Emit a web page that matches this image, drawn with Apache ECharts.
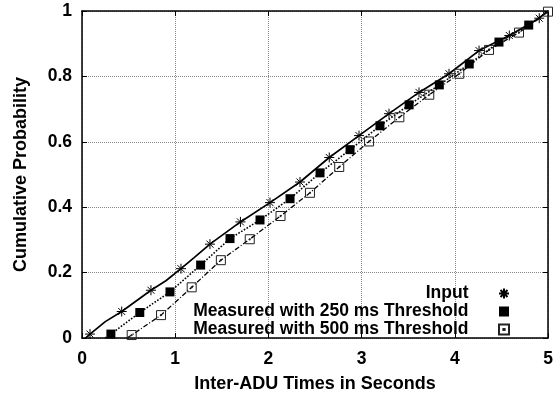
<!DOCTYPE html>
<html>
<head>
<meta charset="utf-8">
<script src="https://cdn.jsdelivr.net/npm/echarts@6/dist/echarts.min.js"></script>
<style>html,body{margin:0;padding:0;background:#fff}#c{width:558px;height:398px}</style>
</head>
<body>
<div id="c"></div>
<script>
// ---- data ----
var xTicks = [0, 1, 2, 3, 4, 5];
var yTicks = [0, 0.2, 0.4, 0.6, 0.8, 1];
var seriesNames = ['Input', 'Measured with 250 ms Threshold', 'Measured with 500 ms Threshold'];

// Input: curve and star markers
var inputLine = [[0.04,0],[0.086,0.012],[0.25,0.05],[0.426,0.081],[0.74,0.146],[0.9,0.175],[1.062,0.212],[1.2,0.245],[1.373,0.287],[1.70,0.355],[2.017,0.414],[2.339,0.477],[2.653,0.552],[2.972,0.619],[3.294,0.686],[3.616,0.751],[3.938,0.808],[4.26,0.879],[4.585,0.925],[4.906,0.978],[5,1]];
var inputMarks = [[0.086,0.012],[0.426,0.081],[0.74,0.146],[1.062,0.212],[1.373,0.287],[1.70,0.355],[2.017,0.414],[2.339,0.477],[2.653,0.552],[2.972,0.619],[3.294,0.686],[3.616,0.751],[3.938,0.808],[4.26,0.879],[4.585,0.925],[4.906,0.978]];

// 250 ms threshold
var m250Line = [[0.25,0],[0.31,0.012],[0.62,0.078],[0.944,0.141],[1.273,0.223],[1.588,0.304],[1.91,0.361],[2.232,0.426],[2.554,0.505],[2.876,0.576],[3.197,0.649],[3.51,0.713],[3.834,0.774],[4.155,0.838],[4.474,0.905],[4.793,0.957],[5,1]];
var m250Marks = [[0.31,0.012],[0.62,0.078],[0.944,0.141],[1.273,0.223],[1.588,0.304],[1.91,0.361],[2.232,0.426],[2.554,0.505],[2.876,0.576],[3.197,0.649],[3.51,0.713],[3.834,0.774],[4.155,0.838],[4.474,0.905],[4.793,0.957]];

// 500 ms threshold
var m500Line = [[0.48,0],[0.533,0.009],[0.848,0.07],[1.177,0.155],[1.49,0.238],[1.80,0.302],[2.13,0.373],[2.446,0.444],[2.76,0.523],[3.08,0.601],[3.405,0.675],[3.726,0.744],[4.048,0.808],[4.367,0.881],[4.689,0.934],[5.0,0.998]];
var m500Marks = [[0.533,0.009],[0.848,0.07],[1.177,0.155],[1.49,0.238],[1.80,0.302],[2.13,0.373],[2.446,0.444],[2.76,0.523],[3.08,0.601],[3.405,0.675],[3.726,0.744],[4.048,0.808],[4.367,0.881],[4.689,0.934],[5.0,0.998]];

var FONT = "'Liberation Sans', Arial, Helvetica, sans-serif";
var STAR = 'path://M0,-5L0,5M-5,0L5,0M-3.5,-3.5L3.5,3.5M-3.5,3.5L3.5,-3.5';
var OPENSQ = 'path://M-5,-5L5,-5L5,5L-5,5ZM-0.6,-0.6L0.6,-0.6L0.6,0.6L-0.6,0.6Z';
var FILLSQ = 'path://M-5,-5L5,-5L5,5L-5,5Z';

var chart = echarts.init(document.getElementById('c'), null, {renderer: 'canvas'});

function baseAxis(extra) {
  return Object.assign({
    type: 'value',
    axisLine: {show: true, onZero: false, lineStyle: {color: '#000', width: 1.5}},
    axisTick: {show: true, inside: true, length: 5, lineStyle: {color: '#000', width: 1}},
    splitLine: {show: false},
    axisLabel: {show: false}
  }, extra);
}

chart.setOption({
  animation: false,
  backgroundColor: '#fff',
  grid: {left: 82, right: 10, top: 11, bottom: 59},
  xAxis: [
    baseAxis({
      min: xTicks[0], max: xTicks[xTicks.length - 1], interval: 1, position: 'bottom',
      axisLabel: {show: true, color: '#000', fontSize: 17.5, fontWeight: 'bold', fontFamily: FONT, margin: 12},
      splitLine: {show: true, lineStyle: {color: '#888', type: 'dotted', width: 1}},
      name: 'Inter-ADU Times in Seconds', nameLocation: 'middle', nameGap: 37,
      nameTextStyle: {color: '#000', fontSize: 18, fontWeight: 'bold', fontFamily: FONT}
    }),
    baseAxis({min: xTicks[0], max: xTicks[xTicks.length - 1], interval: 1, position: 'top'})
  ],
  yAxis: [
    baseAxis({
      min: yTicks[0], max: yTicks[yTicks.length - 1], interval: 0.2, position: 'left',
      axisLabel: {show: true, color: '#000', fontSize: 17.5, fontWeight: 'bold', fontFamily: FONT, margin: 10,
                  formatter: function (v) { return String(Math.round(v * 10) / 10); }},
      splitLine: {show: true, lineStyle: {color: '#888', type: 'dotted', width: 1}},
      name: 'Cumulative Probability', nameLocation: 'middle', nameGap: 52, nameRotate: 90,
      nameTextStyle: {color: '#000', fontSize: 18, fontWeight: 'bold', fontFamily: FONT}
    }),
    baseAxis({min: yTicks[0], max: yTicks[yTicks.length - 1], interval: 0.2, position: 'right'})
  ],
  legend: {
    orient: 'vertical', right: 48, top: 284.5, align: 'right', padding: 0,
    itemWidth: 61, itemHeight: 10, itemGap: 0,
    data: seriesNames,
    textStyle: {color: '#000', fontSize: 17.5, fontWeight: 'bold', fontFamily: FONT, lineHeight: 17}
  },
  series: [
    {name: 'inputLine', type: 'line', data: inputLine, showSymbol: false, symbol: 'none',
     lineStyle: {color: '#000', width: 1.7, type: 'solid'}, z: 3},
    {name: 'm250Line', type: 'line', data: m250Line, showSymbol: false, symbol: 'none',
     lineStyle: {color: '#000', width: 1.6, type: 'dotted'}, z: 3},
    {name: 'm500Line', type: 'line', data: m500Line, showSymbol: false, symbol: 'none',
     lineStyle: {color: '#000', width: 1.3, type: [5, 2, 1, 2]}, z: 3},
    {name: seriesNames[0], type: 'scatter', data: inputMarks, symbol: STAR, symbolSize: 10,
     itemStyle: {color: 'rgba(0,0,0,0)', borderColor: '#000', borderWidth: 1, opacity: 1}, z: 4},
    {name: seriesNames[1], type: 'scatter', data: m250Marks, symbol: FILLSQ, symbolSize: 9,
     itemStyle: {color: '#000', borderWidth: 0, opacity: 1}, z: 4},
    {name: seriesNames[2], type: 'scatter', data: m500Marks, symbol: OPENSQ, symbolSize: 9,
     itemStyle: {color: 'rgba(0,0,0,0)', borderColor: '#222', borderWidth: 1, opacity: 1}, z: 4}
  ]
});
</script>
</body>
</html>
